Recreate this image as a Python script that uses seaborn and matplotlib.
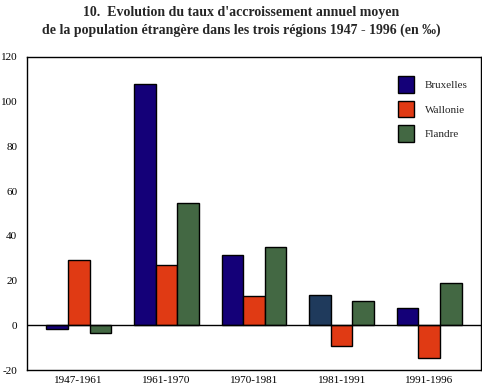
import pandas as pd
import matplotlib
matplotlib.use("Agg")
import matplotlib.pyplot as plt
from matplotlib.patches import Patch
import seaborn as sns

periods = ["1947-1961", "1961-1970", "1970-1981", "1981-1991", "1991-1996"]
regions = ["Bruxelles", "Wallonie", "Flandre"]
bruxelles = [-1.8, 107.8, 31.3, 13.4, 7.6]
wallonie = [29.1, 26.8, 13.0, -9.4, -14.8]
flandre = [-3.6, 54.6, 34.9, 10.7, 18.8]
colors = ["#140078", "#e03a14", "#436843"]
odd_color = "#1f3a5c"  # the 1981-1991 Bruxelles bar is drawn darker blue-grey in the source

rows = []
for name, vals in zip(regions, [bruxelles, wallonie, flandre]):
    for p, v in zip(periods, vals):
        rows.append({"period": p, "region": name, "value": v})
df = pd.DataFrame(rows)

sns.set_style("white")
plt.rcParams["font.family"] = ["Liberation Serif", "DejaVu Serif"]
plt.rcParams["axes.unicode_minus"] = False

fig = plt.figure(figsize=(4.82, 3.88), dpi=100)
ax = fig.add_axes([27 / 482, 18 / 388, 454 / 482, 313 / 388])

sns.barplot(data=df, x="period", y="value", hue="region", order=periods,
            hue_order=regions, palette=colors, width=0.74, dodge=True,
            edgecolor="black", linewidth=1.0, saturation=1, ax=ax, legend=False)
ax.containers[0].patches[3].set_facecolor(odd_color)

ax.axhline(0, color="black", lw=1.0, zorder=5)
ax.set_xlim(-0.59, 4.59)
ax.set_ylim(-20, 120)
ax.set_yticks(range(-20, 121, 20))
ax.set_xlabel("")
ax.set_ylabel("")
for s in ax.spines.values():
    s.set_color("black")
    s.set_linewidth(1.0)
ax.tick_params(axis="both", direction="in", length=5.5, width=1, color="black",
               labelsize=8, labelcolor="black")
ax.tick_params(axis="y", pad=7)
ax.tick_params(axis="x", pad=4)

handles = [Patch(facecolor=c, edgecolor="black", linewidth=1.0) for c in colors]
ax.legend(handles, regions, loc="upper left", bbox_to_anchor=(0.795, 0.97),
          frameon=False, fontsize=8, handlelength=1.45, handleheight=1.9,
          labelspacing=0.72, handletextpad=1.0)

fig.text(0.5, 0.985, "10.  Evolution du taux d'accroissement annuel moyen\n"
         "de la population étrangère dans les trois régions 1947 - 1996 (en ‰)",
         ha="center", va="top", fontsize=10, fontweight="bold", linespacing=1.45)

fig.savefig("out.png", dpi=100)
